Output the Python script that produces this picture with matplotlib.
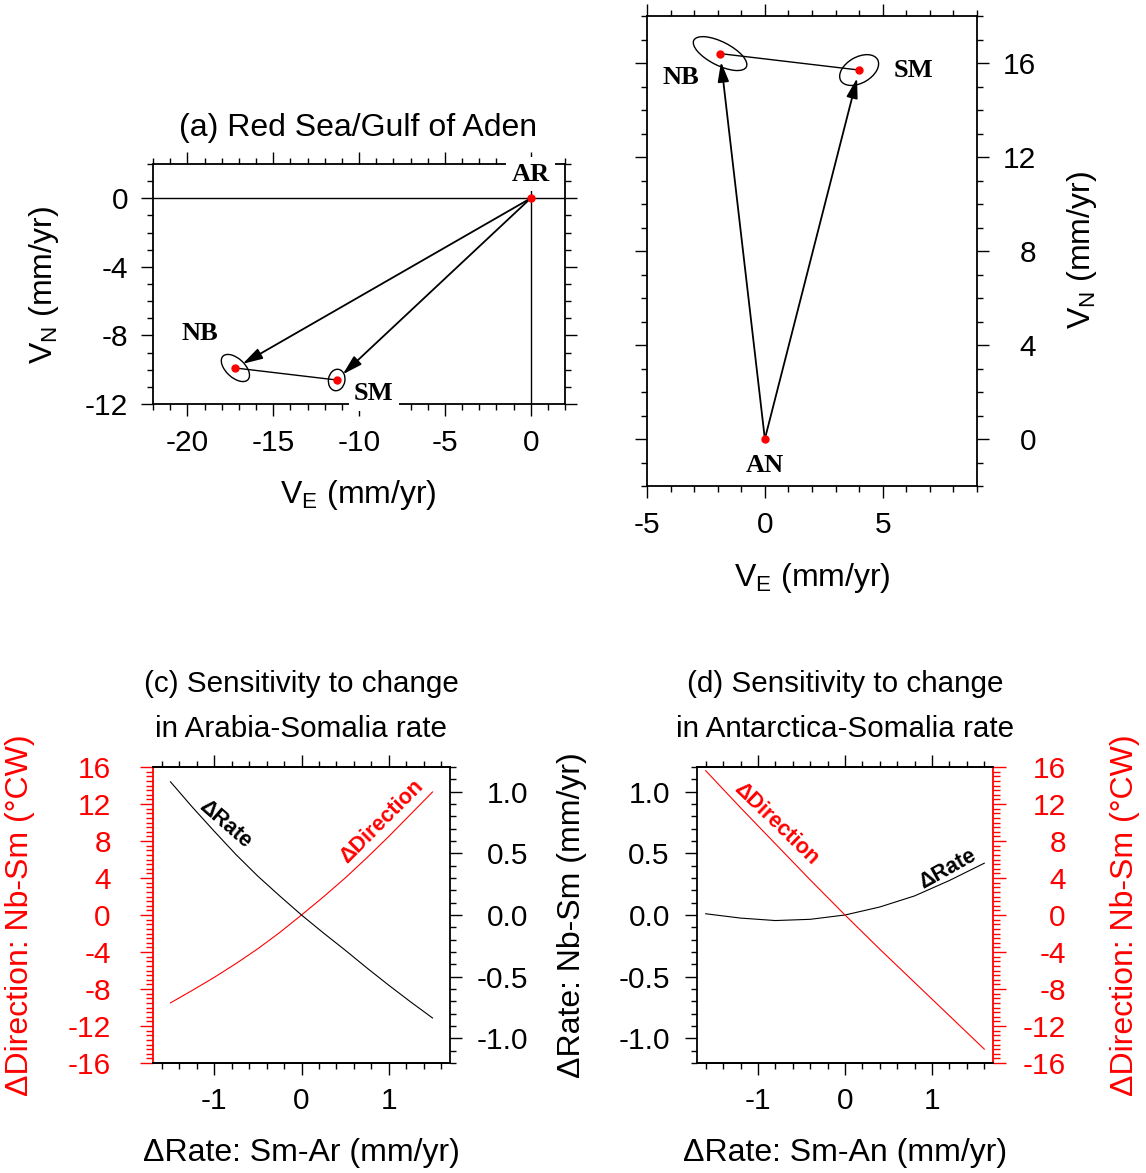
import matplotlib
matplotlib.use("Agg")
import matplotlib.pyplot as plt
from matplotlib.patches import Ellipse
from matplotlib.ticker import MultipleLocator, FormatStrFormatter

plt.rcParams["font.family"] = ["Liberation Sans", "DejaVu Sans"]
plt.rcParams["mathtext.fontset"] = "custom"
plt.rcParams["mathtext.rm"] = "Liberation Sans"
plt.rcParams["axes.unicode_minus"] = False

# (a) Red Sea / Gulf of Aden, velocities relative to Arabia
a_plates = ["AR", "NB", "SM"]
a_ve = [0.0, -17.2, -11.3]
a_vn = [0.0, -9.9, -10.6]
a_semi_major = [0.0, 1.0, 0.63]
a_semi_minor = [0.0, 0.55, 0.48]
a_angle = [0, -43, 80]

# (b) velocities relative to Antarctica
b_plates = ["AN", "NB", "SM"]
b_ve = [0.0, -1.9, 4.0]
b_vn = [0.0, 16.4, 15.7]
b_semi_major = [0.0, 1.25, 0.9]
b_semi_minor = [0.0, 0.5, 0.55]
b_angle = [0, -27, 30]

# (c) sensitivity to Arabia-Somalia rate
c_drate = [-1.5, -1.25, -1.0, -0.75, -0.5, -0.25, 0.0, 0.25, 0.5, 0.75, 1.0, 1.25, 1.5]
c_rate = [1.08, 0.875, 0.68, 0.49, 0.315, 0.155, 0.0, -0.145, -0.285, -0.43, -0.57, -0.705, -0.835]
c_dir = [-9.5, -8.15, -6.75, -5.25, -3.65, -1.9, 0.0, 1.95, 4.0, 6.2, 8.5, 10.9, 13.3]

# (d) sensitivity to Antarctica-Somalia rate
d_drate = [-1.6, -1.2, -0.8, -0.4, 0.0, 0.4, 0.8, 1.2, 1.6]
d_rate = [0.01, -0.025, -0.045, -0.035, 0.0, 0.065, 0.155, 0.28, 0.42]
d_dir = [15.6, 11.6, 7.7, 3.8, 0.0, -3.7, -7.3, -10.9, -14.5]

x_ticks_sens = [-1, 0, 1]
dir_ticks = [-16, -12, -8, -4, 0, 4, 8, 12, 16]
rate_ticks = [-1.0, -0.5, 0.0, 0.5, 1.0]

W, H = 1146, 1173
fig = plt.figure(figsize=(W / 100, H / 100), dpi=100)


def rect(x0, y0, x1, y1):
    return [x0 / W, 1 - y1 / H, (x1 - x0) / W, (y1 - y0) / H]


def ftext(x, y, s, **kw):
    kw.setdefault("fontsize", 23)
    fig.text(x / W, 1 - y / H, s, ha="center", va="center", **kw)


def frame(ax):
    for sp in ax.spines.values():
        sp.set_linewidth(1.3)
    ax.tick_params(which="both", direction="out", width=1.0, labelsize=21.5)
    ax.tick_params(which="major", length=8.6)
    ax.tick_params(which="minor", length=4.3)


def right_align(ax):
    for t in ax.yaxis.get_major_ticks():
        t.label2.set_horizontalalignment("right")


plate_font = dict(family="Liberation Serif", fontweight="bold", fontsize=19,
                  ha="center", va="center")
curve_font = dict(fontsize=15.5, fontweight="bold", ha="center", va="center")
arrow = dict(arrowstyle="-|>,head_length=1.2,head_width=0.34", color="k",
             lw=1.3, shrinkA=0, shrinkB=6, mutation_scale=10)


def triangle(ax, ve, vn, smaj, smin, ang):
    for i in range(1, len(ve)):
        ax.annotate("", xy=(ve[i], vn[i]), xytext=(ve[0], vn[0]), arrowprops=arrow)
        ax.add_patch(Ellipse((ve[i], vn[i]), 2 * smaj[i], 2 * smin[i], angle=ang[i],
                             fill=False, ec="k", lw=1.0))
    ax.plot(ve[1:], vn[1:], color="k", lw=1.0)
    ax.plot(ve, vn, "o", color="red", ms=5, zorder=6)


# ---- (a)
ax = fig.add_axes(rect(153, 164, 565, 404))
frame(ax)
ax.set_xlim(-22, 2)
ax.set_ylim(-12, 2)
ax.set_xticks([-20, -15, -10, -5, 0])
ax.set_yticks([-12, -8, -4, 0])
ax.xaxis.set_minor_locator(MultipleLocator(1))
ax.yaxis.set_minor_locator(MultipleLocator(1))
ax.tick_params(which="both", top=True, right=True)
ax.tick_params(axis="y", pad=9.4)
ax.tick_params(axis="x", pad=9.5)
ax.axhline(0, color="k", lw=1.0)
ax.axvline(0, color="k", lw=1.0)
triangle(ax, a_ve, a_vn, a_semi_major, a_semi_minor, a_angle)
box = dict(facecolor="white", edgecolor="none", pad=4)
ax.text(0, 1.4, a_plates[0], bbox=box, zorder=7, **plate_font)
ax.text(-19.27, -7.9, a_plates[1], **plate_font)
ax.text(-9.13, -11.4, a_plates[2], bbox=box, zorder=7, **plate_font)
ftext(358, 128, "(a) Red Sea/Gulf of Aden")
ftext(358, 495, "V$_{\\rm E}$ (mm/yr)")
ftext(44, 285, "V$_{\\rm N}$ (mm/yr)", rotation=90)

# ---- (b)
ax = fig.add_axes(rect(647, 16, 977, 486))
frame(ax)
ax.set_xlim(-5, 9)
ax.set_ylim(-2, 18)
ax.set_xticks([-5, 0, 5])
ax.set_yticks([0, 4, 8, 12, 16])
ax.xaxis.set_minor_locator(MultipleLocator(1))
ax.yaxis.set_minor_locator(MultipleLocator(1))
ax.tick_params(which="both", top=True, right=True, labelleft=False, labelright=True)
ax.tick_params(axis="y", pad=34)
ax.tick_params(axis="x", pad=9.5)
right_align(ax)
triangle(ax, b_ve, b_vn, b_semi_major, b_semi_minor, b_angle)
ax.text(0, -1.12, b_plates[0], **plate_font)
ax.text(-3.56, 15.39, b_plates[1], **plate_font)
ax.text(6.32, 15.69, b_plates[2], **plate_font)
ftext(812, 578, "V$_{\\rm E}$ (mm/yr)")
ftext(1082, 250, "V$_{\\rm N}$ (mm/yr)", rotation=90)

# ---- (c)
ax = fig.add_axes(rect(153, 767, 450, 1063))
frame(ax)
ax.set_xlim(-1.7, 1.7)
ax.set_ylim(-16, 16)
ax.set_xticks(x_ticks_sens)
ax.set_yticks(dir_ticks)
ax.xaxis.set_minor_locator(MultipleLocator(0.2))
ax.yaxis.set_minor_locator(MultipleLocator(0.5))
ax.tick_params(axis="x", which="both", top=True, pad=9)
ax.tick_params(axis="y", which="both", colors="red", right=False, pad=21)
ax.tick_params(axis="y", which="major", length=9.4)
ax.tick_params(axis="y", which="minor", length=5)
ax.spines["left"].set_color("red")
ax.spines["right"].set_visible(False)
ax.plot(c_drate, c_dir, color="red", lw=0.8)
ax.text(0.92, 10.1, "\u0394Direction", color="red", rotation=45, **curve_font)
ax2 = ax.twinx()
frame(ax2)
ax2.set_ylim(-1.2, 1.2)
ax2.set_yticks(rate_ticks)
ax2.yaxis.set_major_formatter(FormatStrFormatter("%.1f"))
ax2.yaxis.set_minor_locator(MultipleLocator(0.1))
ax2.tick_params(axis="y", pad=48)
ax2.spines["left"].set_visible(False)
right_align(ax2)
ax2.plot(c_drate, c_rate, color="k", lw=0.8)
ax2.text(-0.87, 0.74, "\u0394Rate", rotation=-41, **curve_font)
ftext(301, 684, "(c) Sensitivity to change", fontsize=21.3)
ftext(301, 729, "in Arabia-Somalia rate", fontsize=21.3)
ftext(301, 1153, "\u0394Rate: Sm-Ar (mm/yr)")
ftext(20, 915, "\u0394Direction: Nb-Sm (\u00b0CW)", rotation=90, color="red")
ftext(572, 915, "\u0394Rate: Nb-Sm (mm/yr)", rotation=90)

# ---- (d)
ax = fig.add_axes(rect(697, 767, 993, 1063))
frame(ax)
ax.set_xlim(-1.7, 1.7)
ax.set_ylim(-1.2, 1.2)
ax.set_xticks(x_ticks_sens)
ax.set_yticks(rate_ticks)
ax.yaxis.set_major_formatter(FormatStrFormatter("%.1f"))
ax.xaxis.set_minor_locator(MultipleLocator(0.2))
ax.yaxis.set_minor_locator(MultipleLocator(0.1))
ax.tick_params(axis="x", which="both", top=True, pad=9)
ax.tick_params(axis="y", which="both", right=False, pad=11)
ax.spines["right"].set_visible(False)
ax.plot(d_drate, d_rate, color="k", lw=0.8)
ax.text(1.18, 0.37, "\u0394Rate", rotation=29, **curve_font)
ax2 = ax.twinx()
frame(ax2)
ax2.set_ylim(-16, 16)
ax2.set_yticks(dir_ticks)
ax2.yaxis.set_minor_locator(MultipleLocator(0.5))
ax2.tick_params(axis="y", which="both", colors="red", pad=43)
ax2.tick_params(axis="y", which="major", length=9.4)
ax2.tick_params(axis="y", which="minor", length=5)
ax2.spines["right"].set_color("red")
ax2.spines["left"].set_visible(False)
right_align(ax2)
ax2.plot(d_drate, d_dir, color="red", lw=0.8)
ax2.text(-0.79, 9.8, "\u0394Direction", color="red", rotation=-44, **curve_font)
ftext(845, 684, "(d) Sensitivity to change", fontsize=21.3)
ftext(845, 729, "in Antarctica-Somalia rate", fontsize=21.3)
ftext(845, 1153, "\u0394Rate: Sm-An (mm/yr)")
ftext(1125, 915, "\u0394Direction: Nb-Sm (\u00b0CW)", rotation=90, color="red")

fig.savefig("out.png", dpi=100)
